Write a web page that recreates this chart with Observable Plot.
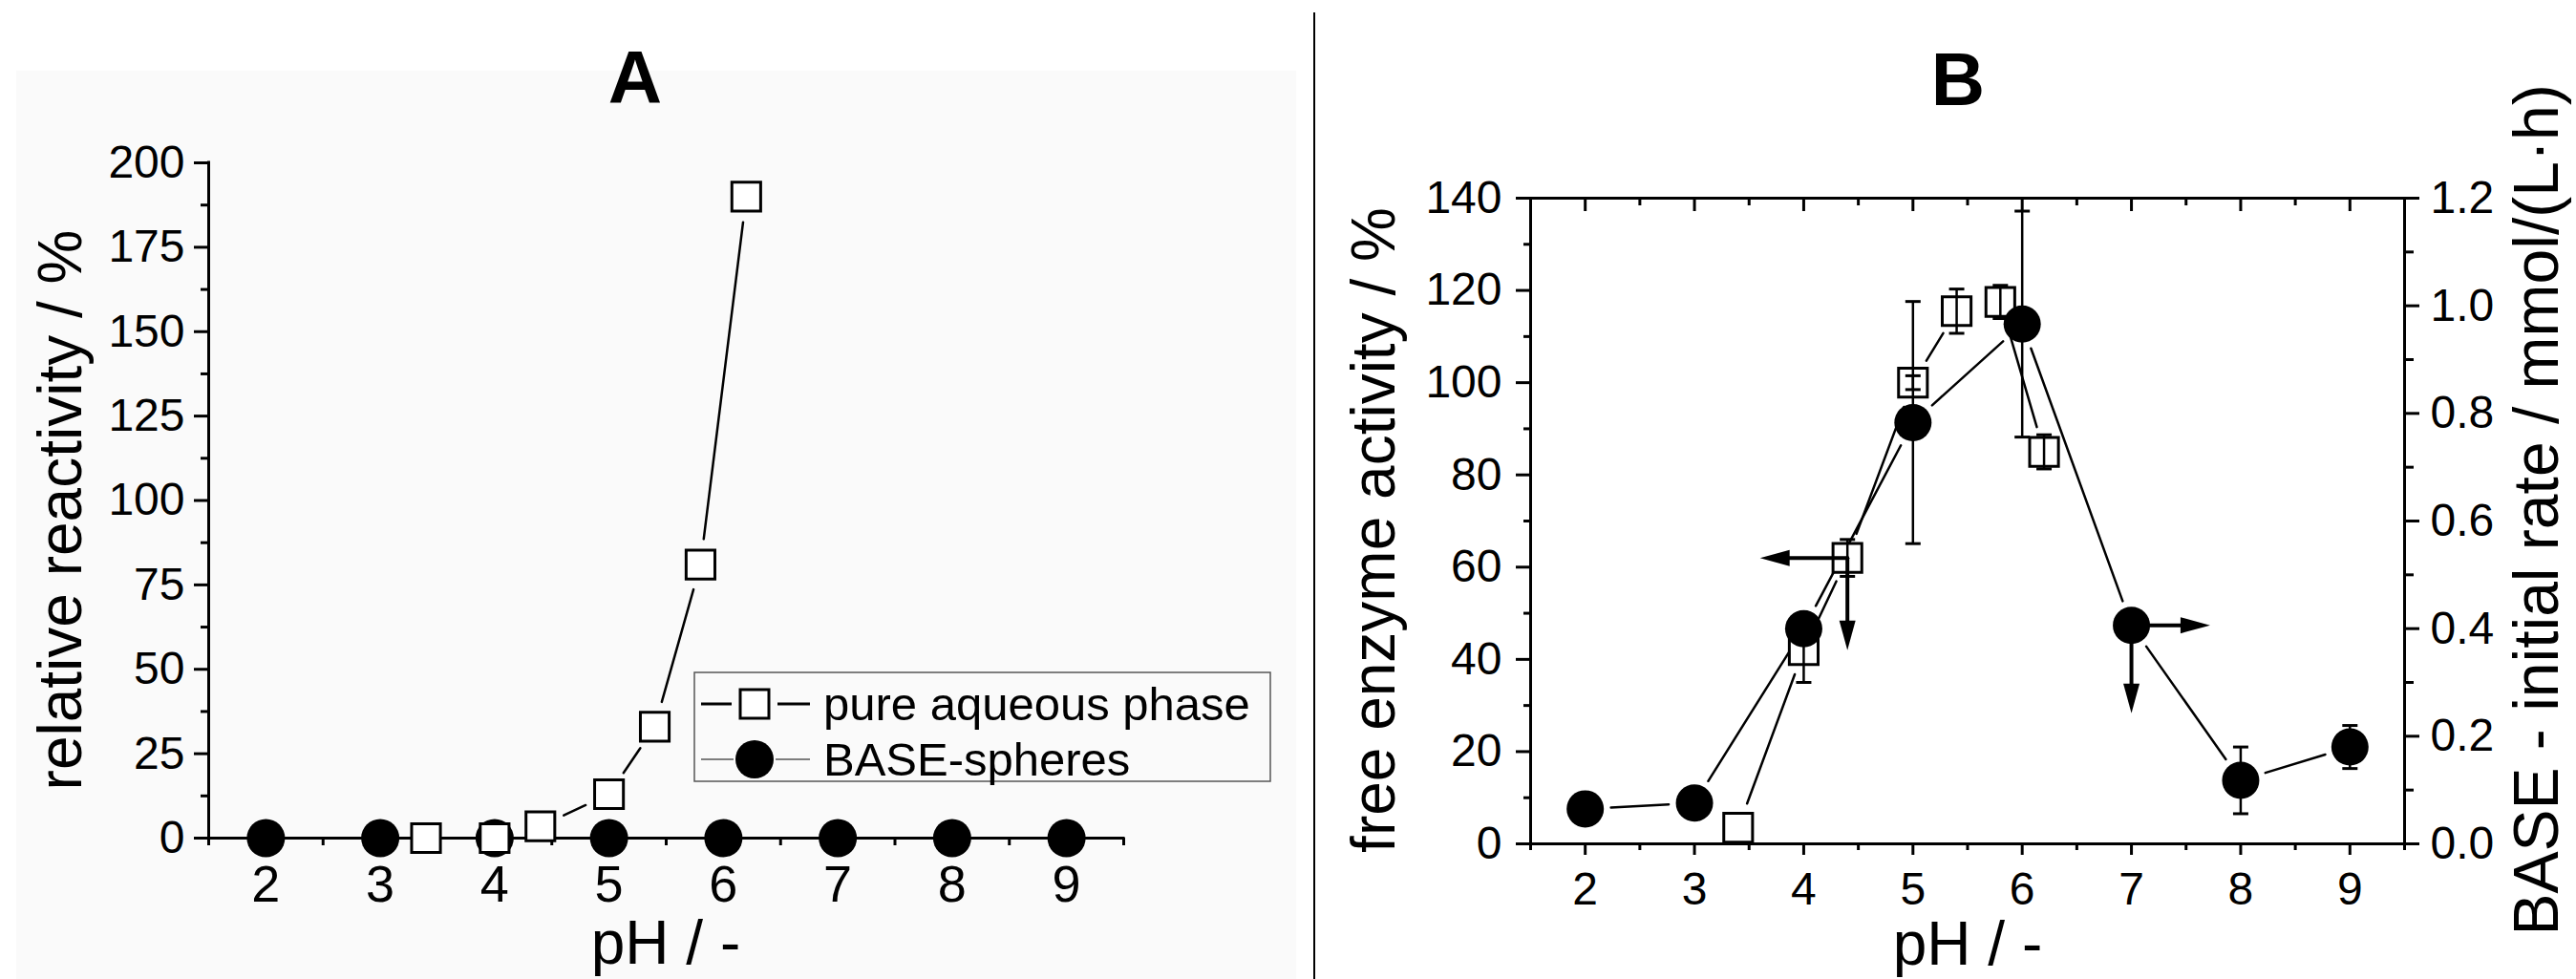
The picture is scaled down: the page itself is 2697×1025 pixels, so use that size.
<!DOCTYPE html>
<html><head><meta charset="utf-8">
<script src="https://cdn.jsdelivr.net/npm/d3@7"></script>
<script src="https://cdn.jsdelivr.net/npm/@observablehq/plot@0.6"></script>
<style>
html,body{margin:0;padding:0;background:#fff;}
#root{position:relative;width:2697px;height:1025px;overflow:hidden;font-family:"Liberation Sans",Arial,sans-serif;}
#root > *{position:absolute;}
</style></head><body><div id="root"></div>
<script>
// ---------- data ----------
// Panel A: relative reactivity (%)
const pH_A_aqueous = [3.4, 4.0, 4.4, 5.0, 5.4, 5.8, 6.2];
const react_A_aqueous = [0, 0, 3.5, 13, 33, 81, 190];
const pH_A_spheres = [2, 3, 4, 5, 6, 7, 8, 9];
const react_A_spheres = [0, 0, 0, 0, 0, 0, 0, 0];

// Panel B: free enzyme activity (%) and BASE initial rate (mmol/(L·h))
const pH_B_free = [3.4, 4.0, 4.4, 5.0, 5.4, 5.8, 6.2];
const act_B_free = [3.5, 42, 62, 100, 115.5, 117.5, 85];
const err_B_free = [0, 7, 4, 1.5, 4.8, 3.6, 3.7];
const pH_B_base = [2, 3, 4, 5, 6, 7, 8, 9];
const rate_B_base = [0.065, 0.076, 0.40, 0.783, 0.966, 0.406, 0.118, 0.180];
const err_B_base = [0, 0, 0, 0.225, 0.21, 0, 0.062, 0.04];

// arrows in panel B (x: pH, y: activity %)
const arrowFromPH = [4.4, 4.4, 7.0, 7.0];
const arrowFromAct = [62, 62, 47.4, 47.4];
const arrowToPH = [3.6, 4.4, 7.72, 7.0];
const arrowToAct = [62, 42, 47.4, 28.3];

// ticks
const xTicks = [2, 3, 4, 5, 6, 7, 8, 9];
const xMinorTicks = [1.5, 2.5, 3.5, 4.5, 5.5, 6.5, 7.5, 8.5, 9.5];
const yTicksA = [0, 25, 50, 75, 100, 125, 150, 175, 200];
const yMinorA = [12.5, 37.5, 62.5, 87.5, 112.5, 137.5, 162.5, 187.5];
const yTicksB = [0, 20, 40, 60, 80, 100, 120, 140];
const yMinorB = [10, 30, 50, 70, 90, 110, 130];
const rateTicks = [0, 0.2, 0.4, 0.6, 0.8, 1.0, 1.2];
const rateMinor = [0.1, 0.3, 0.5, 0.7, 0.9, 1.1];

// ---------- helpers ----------
const FONT = '"Liberation Sans", Arial, sans-serif';
const k = 140 / 1.2; // right axis -> left axis
const zip = (xs, ys, es) => xs.map((x, i) => ({x, y: ys[i], e: es ? es[i] : 0}));
const segments = (pts) => pts.slice(1).map((p, i) => ({x1: pts[i].x, y1: pts[i].y, x2: p.x, y2: p.y}));
const capSym = {draw(ctx, size) { const r = Math.sqrt(size / Math.PI); ctx.moveTo(-r, 0); ctx.lineTo(r, 0); }};
const headSym = {draw(ctx, size) { ctx.moveTo(0, 0); ctx.lineTo(-8.5, 31); ctx.lineTo(8.5, 31); ctx.closePath(); }};

const root = document.getElementById("root");

// background of panel A
const bg = document.createElement("div");
Object.assign(bg.style, {left: "17px", top: "74px", width: "1340px", height: "951px", background: "#fafafa"});
root.appendChild(bg);

// ---------- Panel A ----------
const aqA = zip(pH_A_aqueous, react_A_aqueous);
const spA = zip(pH_A_spheres, react_A_spheres);
const plotA = Plot.plot({
  width: 1376, height: 1025,
  marginLeft: 218, marginRight: 200, marginTop: 170, marginBottom: 148,
  x: {domain: [1.5, 9.5]},
  y: {domain: [0, 200]},
  style: {fontFamily: FONT, background: "transparent", color: "black", overflow: "visible"},
  marks: [
    Plot.axisY({ticks: yMinorA, tickSize: 8, strokeWidth: 3, fill: "none", label: null}),
    Plot.axisY({ticks: yTicksA, tickSize: 15, tickPadding: 10, strokeWidth: 3, fontSize: 48, label: null}),
    Plot.axisX({ticks: xMinorTicks, tickSize: 8, strokeWidth: 3, fill: "none", label: null}),
    Plot.axisX({ticks: xTicks, tickSize: 12, tickPadding: 16, strokeWidth: 3, fontSize: 54, label: null}),
    Plot.ruleX([1.5], {strokeWidth: 3, strokeLinecap: "square"}),
    Plot.ruleY([0], {strokeWidth: 3, strokeLinecap: "square"}),
    Plot.arrow(segments(spA), {x1: "x1", y1: "y1", x2: "x2", y2: "y2", headLength: 0, insetStart: 27, insetEnd: 27, strokeWidth: 2.5}),
    Plot.arrow(segments(aqA), {x1: "x1", y1: "y1", x2: "x2", y2: "y2", headLength: 0, insetStart: 27, insetEnd: 27, strokeWidth: 2.5}),
    Plot.dot(spA, {x: "x", y: "y", r: 20, fill: "black", stroke: "none"}),
    Plot.dot(aqA, {x: "x", y: "y", symbol: "square", r: 17, fill: "white", stroke: "black", strokeWidth: 3})
  ]
});
plotA.style.left = "0px"; plotA.style.top = "0px";
root.appendChild(plotA);

// ---------- Panel B ----------
const freeB = zip(pH_B_free, act_B_free, err_B_free);
const baseB = zip(pH_B_base, rate_B_base.map(v => v * k), err_B_base.map(v => v * k));
const arrows = arrowFromPH.map((x1, i) => {
  const x2 = arrowToPH[i], y1 = arrowFromAct[i], y2 = arrowToAct[i];
  const rot = x2 < x1 ? -90 : x2 > x1 ? 90 : (y2 < y1 ? 180 : 0);
  return {x1, y1, x2, y2, rot};
});
const ebFree = freeB.filter(d => d.e > 0);
const ebBase = baseB.filter(d => d.e > 0);
const plotB = Plot.plot({
  width: 1319, height: 1025,
  marginLeft: 224, marginRight: 180, marginTop: 207, marginBottom: 142,
  x: {domain: [1.5, 9.5]},
  y: {domain: [0, 140]},
  style: {fontFamily: FONT, background: "transparent", color: "black", overflow: "visible"},
  marks: [
    Plot.axisY({ticks: yMinorB, tickSize: 7, strokeWidth: 3, fill: "none", label: null}),
    Plot.axisY({ticks: yTicksB, tickSize: 15, tickPadding: 15, strokeWidth: 3, fontSize: 48, label: null}),
    Plot.axisY({ticks: rateMinor.map(v => v * k), anchor: "right", tickSize: 9, strokeWidth: 3, fill: "none", label: null}),
    Plot.axisY({ticks: rateTicks.map(v => v * k), anchor: "right", tickSize: 15, tickPadding: 12, strokeWidth: 3, fontSize: 48, tickFormat: d => (d / k).toFixed(1), label: null}),
    Plot.axisX({ticks: xMinorTicks, tickSize: 7, strokeWidth: 3, fill: "none", label: null}),
    Plot.axisX({ticks: xTicks, tickSize: 12, tickPadding: 17, strokeWidth: 3, fontSize: 48, label: null}),
    Plot.axisX({ticks: xMinorTicks, anchor: "top", tickSize: -7, strokeWidth: 3, fill: "none", label: null}),
    Plot.axisX({ticks: xTicks, anchor: "top", tickSize: -13, strokeWidth: 3, fill: "none", label: null}),
    Plot.frame({strokeWidth: 3}),
    Plot.arrow(segments(baseB), {x1: "x1", y1: "y1", x2: "x2", y2: "y2", headLength: 0, insetStart: 27, insetEnd: 27, strokeWidth: 2.5}),
    Plot.arrow(segments(freeB), {x1: "x1", y1: "y1", x2: "x2", y2: "y2", headLength: 0, insetStart: 27, insetEnd: 27, strokeWidth: 2.5}),
    Plot.dot(freeB, {x: "x", y: "y", symbol: "square", r: 17, fill: "white", stroke: "black", strokeWidth: 3}),
    Plot.ruleX(ebFree, {x: "x", y1: d => d.y - d.e, y2: d => d.y + d.e, strokeWidth: 2.5}),
    Plot.dot(ebFree, {x: "x", y: d => d.y - d.e, symbol: capSym, r: 8, stroke: "black", strokeWidth: 3, fill: "none"}),
    Plot.dot(ebFree, {x: "x", y: d => d.y + d.e, symbol: capSym, r: 8, stroke: "black", strokeWidth: 3, fill: "none"}),
    Plot.ruleX(ebBase, {x: "x", y1: d => d.y - d.e, y2: d => d.y + d.e, strokeWidth: 2.5}),
    Plot.dot(ebBase, {x: "x", y: d => d.y - d.e, symbol: capSym, r: 8, stroke: "black", strokeWidth: 3, fill: "none"}),
    Plot.dot(ebBase, {x: "x", y: d => d.y + d.e, symbol: capSym, r: 8, stroke: "black", strokeWidth: 3, fill: "none"}),
    Plot.dot(baseB, {x: "x", y: "y", r: 19.5, fill: "black", stroke: "none"}),
    Plot.arrow(arrows, {x1: "x1", y1: "y1", x2: "x2", y2: "y2", headLength: 0, insetEnd: 26, strokeWidth: 4}),
    Plot.dot(arrows, {x: "x2", y: "y2", symbol: headSym, rotate: "rot", r: 10, fill: "black", stroke: "none"})
  ]
});
plotB.style.left = "1378px"; plotB.style.top = "0px";
root.appendChild(plotB);

// ---------- overlay: titles, axis titles, legend, divider ----------
const ov = d3.create("svg").attr("width", 2697).attr("height", 1025)
  .style("left", "0px").style("top", "0px").style("pointer-events", "none")
  .attr("font-family", FONT).attr("fill", "black");
ov.append("line").attr("x1", 1376).attr("x2", 1376).attr("y1", 13).attr("y2", 1025).attr("stroke", "black").attr("stroke-width", 2);
ov.append("text").attr("x", 665).attr("y", 108).attr("text-anchor", "middle").attr("font-size", 78).attr("font-weight", "bold").text("A");
ov.append("text").attr("x", 2050).attr("y", 110).attr("text-anchor", "middle").attr("font-size", 78).attr("font-weight", "bold").text("B");
ov.append("text").attr("transform", "translate(85,534) rotate(-90)").attr("text-anchor", "middle").attr("font-size", 64).text("relative reactivity / %");
ov.append("text").attr("x", 697).attr("y", 1009).attr("text-anchor", "middle").attr("font-size", 64).text("pH / -");
ov.append("text").attr("transform", "translate(1460,555) rotate(-90)").attr("text-anchor", "middle").attr("font-size", 64).text("free enzyme activity / %");
ov.append("text").attr("x", 2060).attr("y", 1010).attr("text-anchor", "middle").attr("font-size", 64).text("pH / -");
ov.append("text").attr("transform", "translate(2678,534) rotate(-90)").attr("text-anchor", "middle").attr("font-size", 66).text("BASE - initial rate / mmol/(L·h)");
// legend
const lg = ov.append("g");
lg.append("rect").attr("x", 727).attr("y", 704).attr("width", 603).attr("height", 114).attr("fill", "#fafafa").attr("stroke", "#555").attr("stroke-width", 1.5);
lg.append("line").attr("x1", 734).attr("x2", 766).attr("y1", 737).attr("y2", 737).attr("stroke", "black").attr("stroke-width", 3);
lg.append("line").attr("x1", 814).attr("x2", 848).attr("y1", 737).attr("y2", 737).attr("stroke", "black").attr("stroke-width", 3);
lg.append("rect").attr("x", 775).attr("y", 722).attr("width", 30).attr("height", 30).attr("fill", "white").attr("stroke", "black").attr("stroke-width", 3);
lg.append("text").attr("x", 862).attr("y", 754).attr("font-size", 49).text("pure aqueous phase");
lg.append("line").attr("x1", 734).attr("x2", 768).attr("y1", 795).attr("y2", 795).attr("stroke", "#555").attr("stroke-width", 1.5);
lg.append("line").attr("x1", 812).attr("x2", 848).attr("y1", 795).attr("y2", 795).attr("stroke", "#555").attr("stroke-width", 1.5);
lg.append("circle").attr("cx", 790).attr("cy", 795).attr("r", 20).attr("fill", "black");
lg.append("text").attr("x", 862).attr("y", 812).attr("font-size", 49).text("BASE-spheres");
root.appendChild(ov.node());
</script>
</body></html>
